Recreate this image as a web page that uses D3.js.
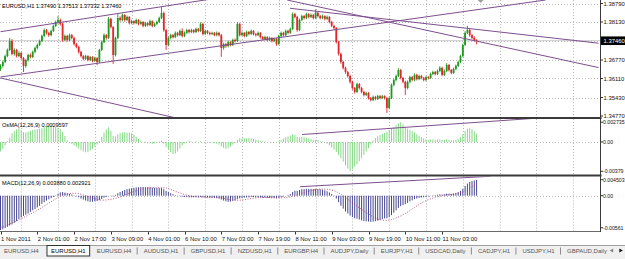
<!DOCTYPE html>
<html>
<head>
<meta charset="utf-8">
<script src="https://d3js.org/d3.v7.min.js"></script>
<style>
  body { margin: 0; background: #fff; overflow: hidden; }
  text { font-family: "Liberation Sans", Arial, sans-serif; }
</style>
</head>
<body>
<div id="okvir"></div>
<script>
// EURUSD H1, cijene u pipsima (x 0.0001)
const prviOpen = 13645
const closes = [13656,13670,13691,13713,13745,13699,13713,13691,13702,13684,
13656,13677,13695,13688,13706,13720,13731,13745,13763,13784,
13774,13766,13781,13799,13813,13820,13806,13749,13763,13749,
13766,13756,13734,13724,13706,13691,13681,13691,13677,13688,
13674,13684,13670,13713,13741,13766,13756,13824,13795,13695,
13756,13827,13820,13838,13820,13831,13809,13816,13809,13820,
13806,13813,13799,13809,13802,13816,13799,13806,13813,13827,
13845,13784,13731,13756,13766,13759,13774,13766,13781,13763,
13774,13784,13777,13784,13777,13788,13781,13806,13770,13781,
13774,13770,13774,13766,13774,13766,13720,13734,13727,13741,
13731,13749,13745,13806,13766,13774,13763,13777,13770,13781,
13770,13766,13774,13759,13752,13759,13749,13756,13745,13752,
13734,13763,13774,13766,13781,13774,13788,13841,13831,13784,
13820,13834,13827,13841,13831,13838,13827,13845,13834,13827,
13834,13824,13831,13813,13799,13791,13741,13699,13670,13649,
13634,13620,13599,13577,13563,13591,13577,13563,13552,13559,
13541,13534,13545,13538,13548,13541,13548,13541,13506,13541,
13588,13606,13620,13641,13613,13599,13577,13599,13616,13606,
13624,13609,13620,13613,13606,13616,13613,13627,13634,13627,
13638,13649,13624,13638,13659,13641,13631,13645,13656,13670,
13691,13731,13774,13784,13766,13756,13749,13746]
const highs = [13662,13675,13696,13718,13756,13752,13719,13717,13708,13706,
13688,13681,13699,13701,13711,13725,13736,13750,13768,13790,
13788,13778,13786,13804,13818,13834,13825,13810,13768,13767,
13771,13770,13760,13738,13728,13710,13695,13696,13694,13692,
13691,13689,13687,13717,13746,13772,13770,13831,13828,13798,
13760,13841,13833,13843,13841,13836,13834,13821,13819,13825,
13823,13818,13816,13814,13812,13821,13819,13811,13818,13832,
13866,13850,13788,13761,13771,13770,13779,13778,13786,13790,
13779,13789,13788,13789,13787,13793,13792,13812,13810,13786,
13784,13778,13778,13777,13779,13778,13770,13739,13738,13746,
13744,13753,13754,13812,13810,13779,13777,13782,13781,13786,
13784,13774,13779,13777,13763,13764,13762,13761,13759,13757,
13756,13768,13779,13778,13786,13785,13793,13847,13846,13835,
13825,13839,13838,13846,13844,13843,13841,13858,13849,13838,
13839,13837,13836,13834,13817,13803,13795,13745,13703,13674,
13653,13638,13624,13603,13581,13596,13595,13581,13567,13564,
13563,13545,13550,13549,13553,13552,13552,13551,13545,13546,
13593,13611,13625,13648,13645,13617,13603,13604,13621,13620,
13629,13628,13625,13624,13617,13621,13620,13632,13639,13638,
13643,13655,13653,13643,13666,13663,13645,13650,13661,13675,
13696,13736,13780,13799,13790,13770,13762,13751]
const lows = [13638,13650,13666,13687,13709,13694,13693,13686,13687,13678,
13634,13650,13672,13683,13684,13701,13715,13727,13741,13759,
13768,13760,13762,13777,13795,13808,13800,13742,13744,13743,
13745,13751,13729,13719,13700,13686,13676,13677,13672,13673,
13669,13670,13659,13666,13709,13737,13750,13752,13790,13663,
13690,13752,13814,13815,13814,13816,13804,13805,13804,13805,
13801,13802,13794,13795,13797,13798,13794,13795,13802,13809,
13823,13778,13713,13726,13751,13754,13755,13761,13762,13758,
13759,13770,13772,13773,13772,13773,13776,13777,13765,13766,
13769,13765,13766,13762,13762,13761,13688,13714,13721,13722,
13726,13727,13740,13741,13761,13762,13758,13759,13765,13766,
13765,13761,13762,13754,13747,13748,13744,13745,13740,13741,
13728,13730,13759,13761,13762,13769,13770,13784,13826,13778,
13780,13816,13822,13823,13826,13827,13822,13823,13829,13822,
13823,13819,13820,13808,13794,13786,13736,13693,13664,13643,
13628,13614,13593,13571,13557,13559,13572,13558,13547,13548,
13536,13529,13530,13533,13534,13537,13537,13536,13488,13501,
13537,13583,13601,13616,13608,13594,13552,13572,13594,13601,
13601,13604,13605,13608,13601,13601,13608,13609,13623,13622,
13623,13634,13619,13620,13634,13636,13626,13627,13641,13652,
13666,13687,13727,13770,13760,13751,13744,13733]

// OsMA i MACD u jedinicama 0.00001
const osma = [-110,-80,-40,10,50,100,125,145,160,140,
115,110,120,130,140,145,150,155,160,175,
185,190,190,185,175,165,150,115,70,20,
-10,-25,-40,-55,-75,-95,-110,-120,-115,-100,
-80,-55,-30,10,60,110,145,170,130,70,
65,85,100,110,115,110,110,100,85,60,
35,15,0,-10,-15,-10,-20,-15,-10,5,
15,-20,-60,-90,-120,-140,-135,-110,-75,-40,
-15,5,10,5,0,5,0,10,-5,-10,
-5,-10,-5,-10,-20,-30,-55,-70,-80,-75,
-55,-30,-10,25,40,45,45,40,45,40,
35,30,25,15,10,5,0,5,-5,0,
-10,10,25,40,55,65,75,90,85,60,
55,60,55,50,40,35,25,25,20,10,
5,0,-20,-40,-65,-90,-115,-150,-190,-230,
-270,-310,-340,-320,-290,-260,-225,-190,-150,-110,
-70,-30,15,45,65,80,95,105,120,140,
160,175,195,215,230,205,175,155,140,125,
110,90,70,55,40,30,25,25,30,25,
30,30,25,25,30,25,20,20,25,35,
55,90,130,155,160,150,125,96]
const macd = [-850,-830,-800,-770,-740,-710,-670,-630,-580,-540,
-500,-470,-440,-400,-360,-330,-290,-250,-200,-160,
-120,-90,-60,-30,10,50,80,90,75,60,
45,30,10,-15,-40,-70,-95,-120,-140,-150,
-150,-140,-130,-110,-80,-50,-30,0,5,-20,
20,60,90,120,140,160,175,185,195,205,
210,215,215,210,210,210,200,195,190,190,
185,160,120,90,60,35,15,5,-10,-25,
-30,-35,-40,-40,-40,-35,-40,-30,-40,-45,
-45,-50,-50,-55,-60,-70,-95,-120,-140,-150,
-145,-130,-115,-80,-65,-55,-50,-45,-40,-35,
-35,-40,-40,-45,-50,-50,-55,-55,-55,-55,
-60,-50,-35,-20,0,20,40,90,120,120,
140,160,165,170,170,170,165,170,165,160,
150,135,110,80,45,10,-70,-160,-250,-320,
-390,-440,-490,-530,-560,-570,-590,-610,-625,-635,
-640,-645,-640,-630,-615,-600,-580,-560,-560,-530,
-480,-420,-360,-300,-260,-230,-210,-180,-140,-115,
-85,-70,-55,-45,-40,-30,-20,-5,10,15,
25,35,30,35,50,50,45,55,70,90,
120,170,240,300,340,360,375,388]
// signalna linija, ocitana svakih 4 bara + zadnji bar
const signalBarovi = d3.range(0, 205, 4).concat([207])
const signal = [-800,-700,-600,-480,-360,-220,-80,40,60,20,
-60,-110,-90,-30,60,140,190,200,190,110,
30,-20,-35,-45,-55,-100,-110,-80,-50,-45,
-55,-45,0,80,140,165,140,40,-130,-300,
-450,-580,-610,-550,-440,-290,-150,-60,0,35,
65,190,292]

const vremenskeOznake = ["1 Nov 2011","2 Nov 01:00","2 Nov 17:00","3 Nov 09:00","4 Nov 01:00",
  "6 Nov 10:00","7 Nov 03:00","7 Nov 19:00","8 Nov 11:00","9 Nov 03:00","9 Nov 19:00",
  "10 Nov 11:00","11 Nov 03:00"]
const cijeneOznake = [1.38790, 1.38130, 1.37460, 1.36770, 1.36110, 1.35430, 1.34770]
const osmaOznake = ["0.002735", "0.00", "-0.00379"]
const macdOznake = ["0.004503", "0.00", "-0.00561"]
const tabovi = ["EURUSD,H4","EURUSD,H1","EURUSD,H4","AUDUSD,H1","GBPUSD,H1","NZDUSD,H1",
  "EURGBP,H4","AUDJPY,Daily","EURJPY,H1","USDCAD,Daily","CADJPY,H1","USDJPY,H1","GBPAUD,Daily"]
const aktivniTab = 1
const bid = 1.37460

// trend linije: [bar, vrijednost]
const trendCijena = [
  [[0, 1.37782], [100, 1.39058]],
  [[0, 1.36164], [237, 1.38915]],
  [[0, 1.36128], [80, 1.34631]],
  [[124.6, 1.38915], [260, 1.36500]],
  [[125.9, 1.38619], [260, 1.37372]],
]
const trendOsma = [[131.1, 0.00087], [234.6, 0.0028]]
const trendMacd = [[130.2, 0.00222], [213, 0.0048]]

function crtaj() {
  const dim = { sirina: 625, visina: 259, desno: 600.5 }
  const glavni = { top: 0, bottom: 117 }
  const osmaP = { top: 119, bottom: 174.5 }
  const macdP = { top: 176.5, bottom: 231 }

  const svg = d3.select("#okvir").append("svg")
    .attr("width", dim.sirina).attr("height", dim.visina)
  svg.append("rect").attr("width", dim.sirina).attr("height", dim.visina).attr("fill", "#fff")

  const defs = svg.append("defs")
  ;[["clipG", glavni], ["clipO", osmaP], ["clipM", macdP]].forEach(([id, p]) => {
    defs.append("clipPath").attr("id", id).append("rect")
      .attr("x", 0).attr("y", p.top).attr("width", dim.desno).attr("height", p.bottom - p.top)
  })

  const x = d3.scaleLinear().domain([0, 260]).range([0.5, 0.5 + 2.3 * 260])
  const y = d3.scaleLinear().domain([1.34770, 1.38790]).range([116, 3.5])
  const yO = d3.scaleLinear().domain([-0.00379, 0.002735]).range([174.5, 118.5])
  const yM = d3.scaleLinear().domain([-0.008725, 0.004745]).range([231, 176.5])

  const pip = v => v / 10000
  const e5 = v => v / 100000

  // mreza
  const mrezaBarovi = d3.range(9, 260, 16)
  ;[glavni, osmaP, macdP].forEach(p => {
    svg.append("g").selectAll("line").data(mrezaBarovi).enter().append("line")
      .attr("x1", d => Math.round(x(d)) + 0.5).attr("x2", d => Math.round(x(d)) + 0.5)
      .attr("y1", p.top).attr("y2", p.bottom)
      .attr("stroke", "#b8b8b8").attr("stroke-width", 1).attr("stroke-dasharray", "1,2")
  })
  svg.append("g").selectAll("line").data(cijeneOznake.slice(0, -1)).enter().append("line")
    .attr("x1", 0).attr("x2", dim.desno)
    .attr("y1", d => Math.round(y(d)) + 0.5).attr("y2", d => Math.round(y(d)) + 0.5)
    .attr("stroke", "#b8b8b8").attr("stroke-dasharray", "1,2")
  ;[yO, yM].forEach(s => {
    svg.append("line").attr("x1", 0).attr("x2", dim.desno)
      .attr("y1", Math.round(s(0)) + 0.5).attr("y2", Math.round(s(0)) + 0.5)
      .attr("stroke", "#b8b8b8").attr("stroke-dasharray", "1,2")
  })

  // bid linija
  svg.append("line").attr("x1", 0).attr("x2", dim.desno)
    .attr("y1", y(bid)).attr("y2", y(bid)).attr("stroke", "#c8c8c8").attr("stroke-width", 1)

  // svijece
  const svijece = closes.map((c, i) => ({
    i, o: i ? closes[i - 1] : prviOpen, c, h: highs[i], l: lows[i]
  }))
  const gSvijece = svg.append("g").attr("clip-path", "url(#clipG)")
  const boja = d => d.c >= d.o ? "#1f9a1f" : "#e3262b"
  gSvijece.selectAll(".fitilj").data(svijece).enter().append("line")
    .attr("x1", d => x(d.i)).attr("x2", d => x(d.i))
    .attr("y1", d => y(pip(d.h))).attr("y2", d => y(pip(d.l)))
    .attr("stroke", boja).attr("stroke-width", 0.9)
  gSvijece.selectAll(".tijelo").data(svijece).enter().append("rect")
    .attr("x", d => x(d.i) - 0.9).attr("width", 1.8)
    .attr("y", d => y(pip(Math.max(d.o, d.c))))
    .attr("height", d => Math.max(0.8, Math.abs(y(pip(d.o)) - y(pip(d.c)))))
    .attr("fill", boja)

  // trend linije
  const ljubicasta = "#7e4f8e"
  gSvijece.selectAll(".trend").data(trendCijena).enter().append("line")
    .attr("x1", d => x(d[0][0])).attr("y1", d => y(d[0][1]))
    .attr("x2", d => x(d[1][0])).attr("y2", d => y(d[1][1]))
    .attr("stroke", ljubicasta).attr("stroke-width", 1)

  // OsMA
  const gO = svg.append("g").attr("clip-path", "url(#clipO)")
  gO.selectAll("line.o").data(osma).enter().append("line")
    .attr("x1", (d, i) => x(i)).attr("x2", (d, i) => x(i))
    .attr("y1", yO(0)).attr("y2", d => yO(e5(d)))
    .attr("stroke", "#86d886").attr("stroke-width", 1)
  gO.append("line")
    .attr("x1", x(trendOsma[0][0])).attr("y1", yO(trendOsma[0][1]))
    .attr("x2", x(trendOsma[1][0])).attr("y2", yO(trendOsma[1][1]))
    .attr("stroke", ljubicasta)

  // MACD
  const gM = svg.append("g").attr("clip-path", "url(#clipM)")
  gM.selectAll("line.m").data(macd).enter().append("line")
    .attr("x1", (d, i) => x(i)).attr("x2", (d, i) => x(i))
    .attr("y1", yM(0)).attr("y2", d => yM(e5(d)))
    .attr("stroke", "#474792").attr("stroke-width", 1)
  gM.append("path")
    .datum(signal.map((v, k) => [signalBarovi[k], v]))
    .attr("d", d3.line().x(d => x(d[0])).y(d => yM(e5(d[1]))).curve(d3.curveMonotoneX))
    .attr("fill", "none").attr("stroke", "#b04878").attr("stroke-width", 0.9)
    .attr("stroke-dasharray", "1,1.6")
  gM.append("line")
    .attr("x1", x(trendMacd[0][0])).attr("y1", yM(trendMacd[0][1]))
    .attr("x2", x(trendMacd[1][0])).attr("y2", yM(trendMacd[1][1]))
    .attr("stroke", ljubicasta)

  // okviri panela
  ;[glavni.bottom, osmaP.bottom].forEach(b => {
    svg.append("rect").attr("x", 0).attr("y", b).attr("width", dim.desno + 1).attr("height", 2)
      .attr("fill", "#3a3a3a")
  })
  svg.append("line").attr("x1", 0).attr("x2", dim.desno).attr("y1", macdP.bottom + 0.5).attr("y2", macdP.bottom + 0.5)
    .attr("stroke", "#6a6a6a")
  svg.append("line").attr("x1", dim.desno).attr("x2", dim.desno).attr("y1", 0).attr("y2", macdP.bottom + 1)
    .attr("stroke", "#3a3a3a")

  // oznaka pomaka
  svg.append("path")
    .attr("d", `M${x(207) + 1},0 L${x(207) + 7},0 L${x(207) + 4},3 Z`)
    .attr("fill", "#a0a0a0")

  // desna os - cijene
  const os = svg.append("g").style("font-size", "5.9px")
  os.selectAll("line").data(cijeneOznake).enter().append("line")
    .attr("x1", dim.desno).attr("x2", dim.desno + 2.5)
    .attr("y1", d => y(d)).attr("y2", d => y(d)).attr("stroke", "#333")
  os.selectAll("text").data(cijeneOznake).enter().append("text")
    .attr("x", 603.5).attr("y", d => y(d)).attr("dy", "0.35em")
    .attr("fill", "#111")
    .text(d => d3.format(".5f")(d))
  svg.append("rect").attr("x", 601).attr("y", y(bid) - 4.3).attr("width", 24).attr("height", 8.6)
    .attr("fill", "#000")
  svg.append("text").attr("x", 603.5).attr("y", y(bid)).attr("dy", "0.35em")
    .style("font-size", "5.9px").attr("fill", "#fff").text(d3.format(".5f")(bid))

  // desna os - indikatori
  ;[[osmaOznake, yO, osmaP], [macdOznake, yM, macdP]].forEach(([oz, s, p]) => {
    const polozaji = [p.top + 3.2, s(0), p.bottom - 3.2]
    oz.forEach((t, k) => {
      svg.append("line").attr("x1", dim.desno).attr("x2", dim.desno + 2.5)
        .attr("y1", polozaji[k]).attr("y2", polozaji[k]).attr("stroke", "#333")
      svg.append("text").attr("x", 603).attr("y", polozaji[k]).attr("dy", "0.35em")
        .style("font-size", "5.2px").attr("fill", "#111").text(t)
    })
  })

  // naslovi
  svg.append("text").attr("x", 2).attr("y", 7.5).style("font-size", "5.6px").attr("fill", "#000")
    .text(`EURUSD,H1  1.37490 1.37513 1.37332 ${d3.format(".5f")(bid)}`)
  svg.append("text").attr("x", 2).attr("y", 127).style("font-size", "5.6px").attr("fill", "#000")
    .text("OsMA(12,26,9) 0.0009597")
  svg.append("text").attr("x", 2).attr("y", 184.5).style("font-size", "5.6px").attr("fill", "#000")
    .text("MACD(12,26,9) 0.003880 0.002921")

  // vremenska os
  const vrijeme = svg.append("g").style("font-size", "5.9px")
  vremenskeOznake.forEach((t, k) => {
    const xb = x(k * 16)
    vrijeme.append("line").attr("x1", Math.round(xb) + 0.5).attr("x2", Math.round(xb) + 0.5)
      .attr("y1", macdP.bottom + 1).attr("y2", macdP.bottom + 3.5).attr("stroke", "#333")
    vrijeme.append("text").attr("x", xb + 0.5).attr("y", 240.5).attr("fill", "#111").text(t)
  })

  // tabovi
  const tabBar = svg.append("g")
  tabBar.append("rect").attr("x", 0).attr("y", 245).attr("width", dim.sirina).attr("height", 14)
    .attr("fill", "#f0f0f0")
  tabBar.append("line").attr("x1", 0).attr("x2", dim.sirina).attr("y1", 245.5).attr("y2", 245.5)
    .attr("stroke", "#a0a0a0")
  let tx = 4
  tabovi.forEach((t, k) => {
    const aktivan = k === aktivniTab
    if (k > aktivniTab + 1) {
      tabBar.append("line").attr("x1", tx - 6.5).attr("x2", tx - 6.5).attr("y1", 247.5).attr("y2", 254.5)
        .attr("stroke", "#8a8a8a")
    }
    const tekst = tabBar.append("text").attr("x", tx).attr("y", 252.5)
      .style("font-size", "6px").attr("fill", aktivan ? "#000" : "#555").text(t)
    const w = tekst.node().getComputedTextLength()
    if (aktivan) {
      tabBar.insert("rect", "text").attr("x", tx - 4).attr("y", 245.5).attr("width", w + 8).attr("height", 10.5)
        .attr("fill", "#fff").attr("stroke", "#333").attr("stroke-width", 1)
      tx += w + 11
    } else {
      tx += w + 12.3
    }
  })
  const strelice = [[612, -90], [620.5, 90]]
  strelice.forEach(([sx, rot]) => {
    tabBar.append("path").attr("d", d3.symbol(d3.symbolTriangle, 7)())
      .attr("transform", `translate(${sx},250.5) rotate(${rot})`)
      .attr("fill", rot < 0 ? "#888" : "#111")
  })
}
crtaj()
</script>
</body>
</html>
